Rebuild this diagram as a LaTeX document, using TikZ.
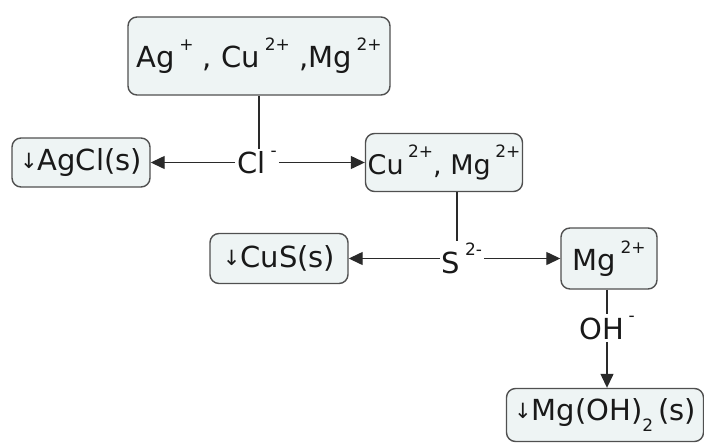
\documentclass[tikz,border=0pt]{standalone}
\usepackage{fontspec}
\setmainfont{DejaVu Sans}
\usetikzlibrary{arrows.meta}
\definecolor{boxfill}{HTML}{EEF4F4}
\definecolor{boxline}{HTML}{505050}
\definecolor{arrline}{HTML}{2A2A2A}
\newcommand{\dn}{{\fontsize{21}{21}\selectfont\raisebox{2pt}{↓}}}
\newcommand{\chg}[1]{\,\raisebox{0.6em}{\fontsize{17}{17}\selectfont #1}}
\newcommand{\idx}[1]{\raisebox{-0.4em}{\fontsize{17}{17}\selectfont #1}}
\begin{document}
\begin{tikzpicture}[x=1pt,y=-1pt,
    every node/.style={font=\fontsize{29}{32}\selectfont, text=black!90},
    ion/.style={draw=boxline, fill=boxfill, line width=1.4pt, rounded corners=9pt,
      inner sep=0pt},
    reag/.style={inner sep=2pt}]
      \useasboundingbox (0,0) rectangle (704,445);
      \node[ion, minimum width=262, minimum height=78] (ions) at (259,56)
        {Ag\chg{+} , Cu\chg{2+} ,Mg\chg{2+}};
      \node[ion, minimum width=138, minimum height=49] (agcl) at (81,162.5) {\dn AgCl(s)};
      \node[ion, minimum width=157, minimum height=58, font=\fontsize{27}{30}\selectfont]
        (cumg) at (444,162.5) {Cu\chg{2+}, Mg\chg{2+}};
      \node[ion, minimum width=138, minimum height=50] (cus) at (279,258.5) {\dn CuS(s)};
      \node[ion, minimum width=96, minimum height=61] (mg) at (609,258.5) {Mg\chg{2+}};
      \node[ion, minimum width=197, minimum height=53] (mgoh) at (605,415)
        {\dn Mg(OH)\idx{2}\,(s)};
      \node[reag] (cl) at (257,162.5) {Cl\chg{-}};
      \node[reag] (s) at (462,258.5) {S\chg{2-}};
      \node[reag] (oh) at (607,328) {OH\chg{-}};
      \begin{scope}[draw=arrline, line width=1.3pt, -{Triangle[length=14pt,width=13pt]}]
        \draw[-] (ions.south) -- (ions.south |- cl.north);
        \draw (cl) -- (agcl);
        \draw (cl) -- (cumg);
        \draw[-] (cumg.south -| 457,0) -- (457,0 |- s.north);
        \draw (s) -- (cus);
        \draw (s) -- (mg);
        \draw[-] (mg.south -| oh.north) -- (oh.north);
        \draw (oh) -- (oh |- mgoh.north);
      \end{scope}
    \end{tikzpicture}
\end{document}
